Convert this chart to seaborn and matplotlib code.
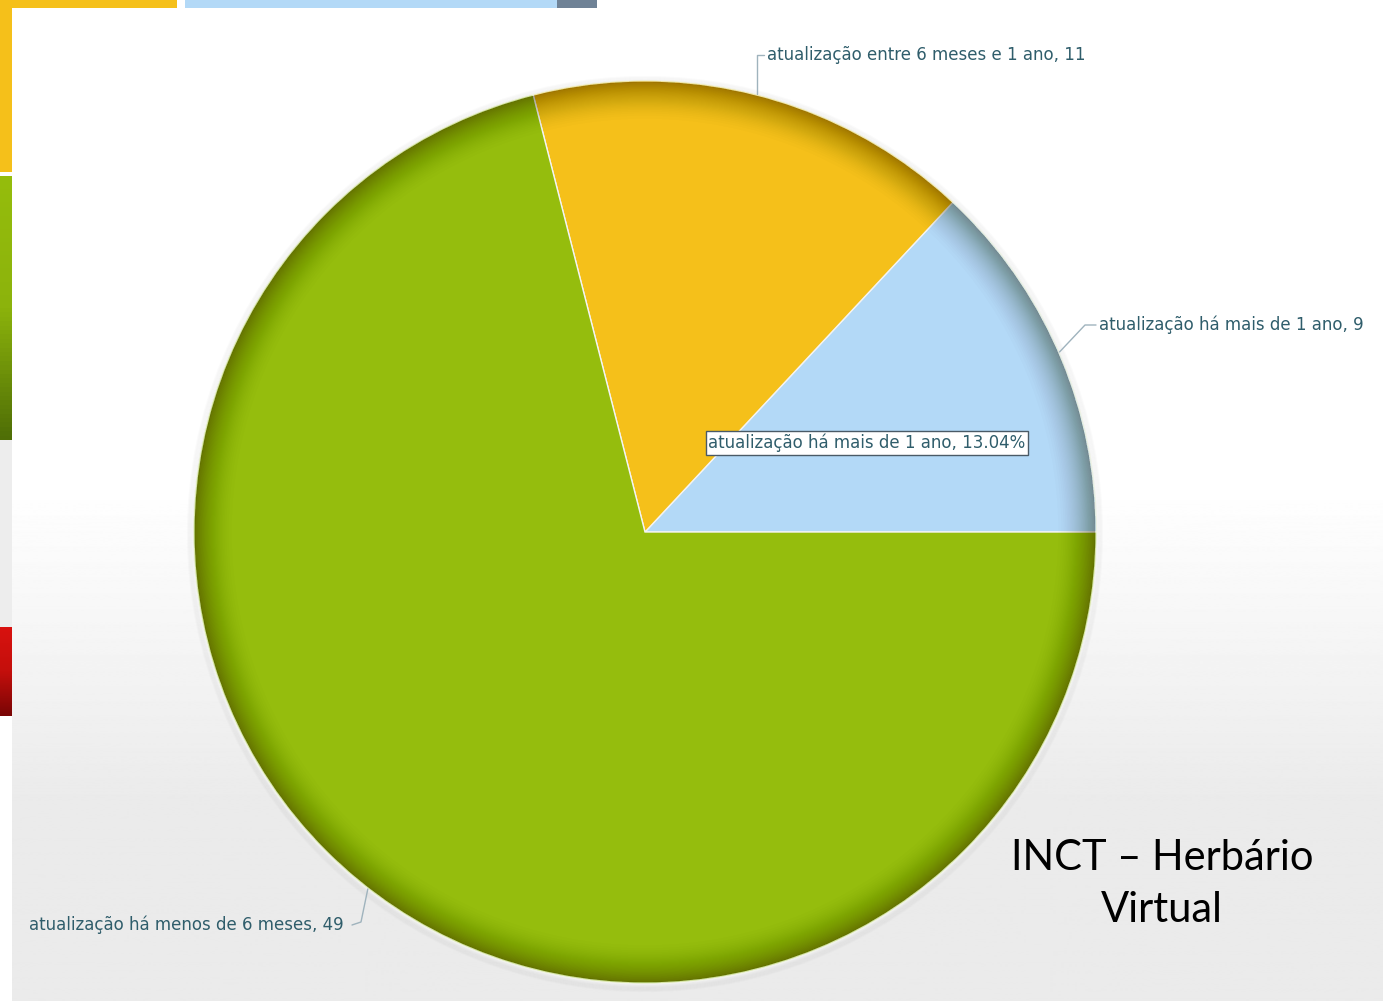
import numpy as np
import seaborn as sns
import matplotlib.pyplot as plt
from matplotlib.patches import Wedge, Rectangle, Circle

# data
categories = ["atualização há mais de 1 ano",
              "atualização entre 6 meses e 1 ano",
              "atualização há menos de 6 meses"]
counts = [9, 11, 49]
slice_colors = ["#b3d9f7", "#f5c01a", "#95bd0d"]
caption = "INCT – Herbário\nVirtual"

W, H = 1383, 1001
CX, CY, R = 645, H - 532, 452


def px(y):
    # screen pixel row -> data y
    return H - y


def main():
    sns.set_theme(style="white")
    plt.rcParams['font.family'] = ['DejaVu Sans']

    fig = plt.figure(figsize=(W / 100, H / 100), dpi=100)
    fig.patch.set_facecolor("white")
    ax = fig.add_axes([0, 0, 1, 1])

    # slide background: white fading into light gray
    rows = np.arange(H)
    shade = np.clip((rows - 480) / 320, 0, 1)
    grad = 1.0 - 0.08 * shade
    img = np.repeat(grad[:, None], 2, axis=1)
    ax.imshow(img, cmap="gray", vmin=0, vmax=1, aspect="auto",
              extent=[12, W, 0, px(8)], origin="upper", zorder=0)

    # scraps of another chart peeking out behind the panel
    ax.add_patch(Rectangle((0, px(172)), 12, 172, color="#f5c01a", lw=0, zorder=0))
    ax.add_patch(Rectangle((0, px(8)), 177, 8, color="#f5c01a", lw=0, zorder=0))
    ax.add_patch(Rectangle((185, px(8)), 372, 8, color="#b3d9f7", lw=0, zorder=0))
    ax.add_patch(Rectangle((557, px(8)), 40, 8, color="#6f8296", lw=0, zorder=0))
    green_band = np.linspace(0, 1, 60)[:, None]
    ax.imshow(np.repeat(green_band, 2, axis=1),
              cmap=sns.blend_palette(["#95bd0d", "#8cb30c", "#4f6e06"], as_cmap=True),
              extent=[0, 12, px(440), px(176)], aspect="auto", origin="upper", zorder=0)
    red_band = np.linspace(0, 1, 40)[:, None]
    ax.imshow(np.repeat(red_band, 2, axis=1),
              cmap=sns.blend_palette(["#d8120f", "#c40f0c", "#7a0505"], as_cmap=True),
              extent=[0, 12, px(716), px(627)], aspect="auto", origin="upper", zorder=0)
    ax.add_patch(Rectangle((0, px(627)), 12, 187, color="#ededed", lw=0, zorder=0))

    # faint drop shadow around the pie
    for k in range(5):
        ax.add_patch(Circle((CX, CY - 2), R + 1 + k, facecolor="none",
                            edgecolor="#909090", alpha=0.035, lw=1.5, zorder=1))

    wedges, _ = ax.pie(counts, colors=slice_colors, startangle=0, counterclock=True,
                       center=(CX, CY), radius=R,
                       wedgeprops=dict(edgecolor="#f4f4f4", linewidth=1.0, zorder=2))

    # darkened rim to mimic the glossy look
    n = 40
    depth = 46
    a = 1 - 0.58 ** (1 / n)
    for k in range(n):
        r_in = R - depth * (1 - np.sqrt((k + 1) / n))
        ax.add_patch(Wedge((CX, CY), R - 1.5, 0, 360, width=max(R - 1.5 - r_in, 0.6),
                           facecolor="#2a2000", alpha=a, lw=0, zorder=3))
    # pale highlight line right on the edge
    ax.add_patch(Circle((CX, CY), R - 0.8, facecolor="none", edgecolor="#eef2dc",
                        alpha=0.7, lw=1.2, zorder=3))

    total = sum(counts)
    label_color = "#2f5d6b"
    line_color = "#9fb3bd"
    fs = 12

    # leader lines and labels
    anchors = []
    for w in wedges:
        mid = np.deg2rad((w.theta1 + w.theta2) / 2)
        anchors.append((CX + R * np.cos(mid), CY + R * np.sin(mid)))

    # blue
    ax0, ay0 = anchors[0]
    ax.plot([ax0, 1085, 1096], [ay0, px(325), px(325)], color=line_color, lw=1, zorder=4)
    ax.text(1099, px(325), f"{categories[0]}, {counts[0]}", fontsize=fs,
            color=label_color, va="center", ha="left", zorder=5)
    # yellow
    ax1, ay1 = anchors[1]
    ax.plot([ax1, ax1, ax1 + 7], [ay1, px(55), px(55)], color=line_color, lw=1, zorder=4)
    ax.text(ax1 + 10, px(55), f"{categories[1]}, {counts[1]}", fontsize=fs,
            color=label_color, va="center", ha="left", zorder=5)
    # green
    ax2, ay2 = anchors[2]
    ax.plot([ax2, 361, 352], [ay2, px(922), px(925)], color=line_color, lw=1, zorder=4)
    ax.text(344, px(925), f"{categories[2]}, {counts[2]}", fontsize=fs,
            color=label_color, va="center", ha="right", zorder=5)

    # hover tooltip
    pct = counts[0] / total * 100
    ax.text(708, px(443), f"{categories[0]}, {pct:.2f}%", fontsize=fs,
            color=label_color, va="center", ha="left", zorder=6,
            bbox=dict(boxstyle="square,pad=0.15", facecolor="white",
                      edgecolor="#4a5a66", linewidth=1))

    ax.text(1162, px(884), caption, fontsize=30, family=["Lato", "DejaVu Sans"],
            color="black", ha="center", va="center", linespacing=1.45, zorder=6)

    ax.set_xlim(0, W)
    ax.set_ylim(0, H)
    ax.set_aspect("auto")
    ax.axis("off")
    fig.savefig("out.png", dpi=100)


if __name__ == "__main__":
    main()
